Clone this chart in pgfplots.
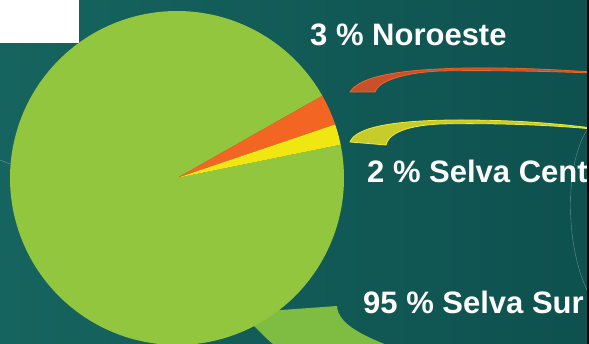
\documentclass[border=0pt]{standalone}
\usepackage{pgfplots}
\usepackage{pgfplotstable}
\pgfplotsset{compat=1.18}
\usepackage{fontspec}
\setmainfont{Liberation Sans}
\definecolor{bgL}{HTML}{16645F}
\definecolor{bgM}{HTML}{1F6F67}
\definecolor{bgR}{HTML}{0E514F}
\definecolor{pieG}{HTML}{92C63E}
\definecolor{pieO}{HTML}{F26522}
\definecolor{pieY}{HTML}{F0E612}
\definecolor{callO}{HTML}{C9502A}
\definecolor{callY}{HTML}{C8CC2A}
\definecolor{callYb}{HTML}{F0EB3A}
\definecolor{callG}{HTML}{7FBD42}
\pgfplotstableread{
region value
Noroeste 3
SelvaCentral 2
SelvaSur 95
}\piedata
\begin{document}
\begin{tikzpicture}
\useasboundingbox (0,0) rectangle (589pt,344pt);
\clip (0,0) rectangle (589pt,344pt);
\pgfplotstablegetelem{0}{value}\of\piedata \let\vN\pgfplotsretval
\pgfplotstablegetelem{1}{value}\of\piedata \let\vC\pgfplotsretval
\pgfplotstablegetelem{2}{value}\of\piedata \let\vS\pgfplotsretval
\pgfmathsetmacro\aS{11.5}
\pgfmathsetmacro\aY{\aS+3.6*\vC}
\pgfmathsetmacro\aO{\aY+3.6*\vN}
\pgfmathsetmacro\aG{\aO+3.6*\vS}
\begin{axis}[
  at={(0,0)}, anchor=south west,
  width=589pt, height=344pt, scale only axis,
  xmin=0, xmax=589, ymin=0, ymax=344,
  hide axis, clip=false,
]
% background
\fill[left color=bgL, middle color=bgM, right color=bgR] (axis cs:0,0) rectangle (axis cs:589,344);
\fill[white] (axis cs:0,301) rectangle (axis cs:79,344);
% faint decorative lines
\draw[white, opacity=0.35, line width=0.4pt] (axis cs:587,214) .. controls (axis cs:565,180) and (axis cs:565,100) .. (axis cs:587,54);
\draw[white, opacity=0.35, line width=0.4pt] (axis cs:0,184) -- (axis cs:10,180);
% callouts
\filldraw[fill=callO, draw=pieO, line width=0.8pt]
  (axis cs:350,252) .. controls (axis cs:360,268) and (axis cs:400,275) .. (axis cs:470,276)
  .. controls (axis cs:520,276.5) and (axis cs:560,274) .. (axis cs:592,272)
  -- (axis cs:592,271) .. controls (axis cs:540,273) and (axis cs:480,274) .. (axis cs:440,273)
  .. controls (axis cs:400,271) and (axis cs:378,262) .. (axis cs:375,252) -- cycle;
\filldraw[fill=callY, draw=callYb, line width=0.8pt]
  (axis cs:350,202) .. controls (axis cs:356,218) and (axis cs:400,224) .. (axis cs:460,224)
  .. controls (axis cs:520,224) and (axis cs:560,220) .. (axis cs:592,216)
  -- (axis cs:592,215) .. controls (axis cs:540,220) and (axis cs:480,221) .. (axis cs:440,220)
  .. controls (axis cs:400,218) and (axis cs:388,208) .. (axis cs:386,199) -- cycle;
\fill[callG] (axis cs:240,31) -- (axis cs:337,38)
  .. controls (axis cs:338,20) and (axis cs:362,8) .. (axis cs:400,-6)
  -- (axis cs:280,-6) .. controls (axis cs:268,4) .. (axis cs:255,17) -- cycle;
% pie slices (angles from the data)
\addplot[draw=none, fill=pieG, domain=\aO:\aG, samples=240] ({177+167*cos(x)},{166+167*sin(x)}) -- (axis cs:177,166) -- cycle;
\addplot[draw=none, fill=pieO, domain=\aY:\aO, samples=30] ({177+167*cos(x)},{166+167*sin(x)}) -- (axis cs:177,166) -- cycle;
\addplot[draw=none, fill=pieY, domain=\aS:\aY, samples=30] ({177+167*cos(x)},{166+167*sin(x)}) -- (axis cs:177,166) -- cycle;
% labels
\node[anchor=base west, inner sep=0pt, text=white, font=\fontsize{31}{36}\selectfont\bfseries] at (axis cs:310,298) {3 \% Noroeste};
\node[anchor=base west, inner sep=0pt, text=white, font=\fontsize{31}{36}\selectfont\bfseries] at (axis cs:367,161) {2 \% Selva Central};
\node[anchor=base west, inner sep=0pt, text=white, font=\fontsize{31}{36}\selectfont\bfseries] at (axis cs:363,30) {95 \% Selva Sur};
\end{axis}
\fill[black] (587pt,0) rectangle (589pt,344pt);
\end{tikzpicture}
\end{document}
